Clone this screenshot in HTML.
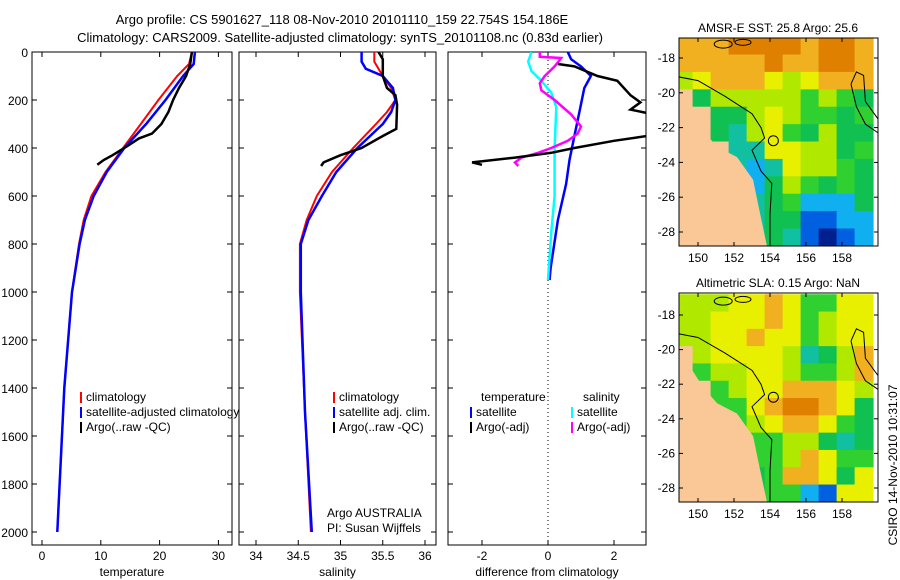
<!DOCTYPE html>
<html><head><meta charset="utf-8"><style>
html,body{margin:0;padding:0;background:#fff}
svg{display:block;font-family:"Liberation Sans",Arial,sans-serif}
</style></head><body>
<svg id="fig" width="900" height="580" viewBox="0 0 900 580">
<text x="342" y="24" font-size="13" text-anchor="middle">Argo profile: CS 5901627_118 08-Nov-2010 20101110_159 22.754S 154.186E</text>
<text x="340" y="42" font-size="13" text-anchor="middle">Climatology: CARS2009. Satellite-adjusted climatology: synTS_20101108.nc (0.83d earlier)</text>
<g id="maps"></g>
<g id="panels"></g>
<text transform="translate(897,465) rotate(-90)" font-size="12" text-anchor="middle">CSIRO 14-Nov-2010 10:31:07</text>
</svg>
<script>
// ---------- data ----------
const tempDepth = [0,50,100,200,300,400,500,600,700,800,1000,1400,2000];
const tempClim  = [25.5,25,23,19.8,16.8,13.8,10.8,8.4,7.1,6.3,5.1,3.8,2.6];
const tempSat   = [26,25.8,24,21,17.7,14,11,8.8,7.3,6.4,5.1,3.8,2.6];
const argoTDepth= [0,50,100,150,200,250,300,340,360,400,430,450,470];
const argoTemp  = [25.5,25.2,24.5,23.3,22.3,21.5,20.3,18.7,16.5,14,12,10.5,9.4];
const salDepth  = [0,40,70,100,150,200,250,300,400,500,600,700,800,1000,1500,2000];
const salClim   = [35.4,35.4,35.45,35.5,35.6,35.65,35.55,35.42,35.15,34.9,34.72,34.6,34.52,34.52,34.58,34.65];
const salSat    = [35.25,35.25,35.3,35.5,35.62,35.65,35.6,35.5,35.2,34.95,34.78,34.62,34.53,34.53,34.58,34.66];
const argoSDepth= [0,30,100,150,180,220,320,350,400,430,460,475];
const argoSal   = [35.45,35.5,35.5,35.55,35.65,35.67,35.66,35.5,35.25,35.0,34.8,34.77];
const dTSatDepth= [0,30,60,100,150,250,350,450,550,700,900,950];
const dTSat     = [0.6,0.7,1.0,1.3,1.1,0.95,0.8,0.65,0.55,0.3,0.08,0.05];
const dSSatDepth= [0,40,80,120,170,230,400,600,750,950];
const dSSat     = [-0.5,-0.6,-0.5,-0.2,0.1,0.25,0.2,0.2,0.1,0.0];
const dSArgoDepth=[0,20,25,60,100,130,160,200,260,310,340,370,400,420,440,460,475];
const dSArgo    = [-0.25,-0.25,0.4,0.2,-0.1,-0.25,-0.2,0.2,0.7,1.0,0.9,0.6,0.1,-0.3,-0.8,-1.0,-0.9];
const dTArgoDepth=[50,60,100,120,180,210,240,260,340,370,400,420,440,460,470];
const dTArgo    = [0.3,0.8,1.5,2.1,2.5,2.8,2.5,3.2,3.5,2.0,0.8,0.1,-1.0,-2.3,-2.0];
const depthTicks = [0,200,400,600,800,1000,1200,1400,1600,1800,2000];
const sstGrid = ["oooOOOOoOOo","oooooOooOOo","yYoooYyYooo","LgyyyyyGyGg","LLggyYyGGgG","LLgCyYGgygg","LLLCCYYyygG","LLLCcCYyyGg","LLLLcgyGgGg","LLLLCgGcccg","LLLLCggBBcc","LLLLCgCBDBc"];
const slaGrid = ["yyyYYoYGGYY","yyYYYoYGyYY","yyYYoYYGyYY","LyYYYYyCgyo","LGyyYYyGGyo","LLGyYYoooYy","LLGGYoOOoYg","LLLGyYooYGg","LLLGGGyygCg","LLLLGGyoYGG","LLLLgGooYgY","LLLLgGGcBYY"];

const NS="http://www.w3.org/2000/svg";
function mk(parent,tag,attrs){const e=document.createElementNS(NS,tag);for(const k in attrs)e.setAttribute(k,attrs[k]);parent.appendChild(e);return e;}
const P=document.getElementById('panels');
const Y0=52, PXM=0.24;
const yD=d=>Y0+d*PXM;
const PB=545;

function panel(x0,x1,xf,ticks,tickLbl,xlabel,name){
  const g=mk(P,'g',{});
  
  
  const r=mk(g,'rect',{x:x0,y:Y0,width:x1-x0,height:PB-Y0,fill:'#fff',stroke:'#000','stroke-width':1});
  
  
  depthTicks.forEach(d=>{mk(g,'line',{x1:x0,x2:x0+5,y1:yD(d),y2:yD(d),stroke:'#000'});mk(g,'line',{x1:x1,x2:x1-5,y1:yD(d),y2:yD(d),stroke:'#000'});});
  ticks.forEach((t,i)=>{const x=xf(t);mk(g,'line',{x1:x,x2:x,y1:PB,y2:PB-5,stroke:'#000'});mk(g,'line',{x1:x,x2:x,y1:Y0,y2:Y0+5,stroke:'#000'});
    const tx=mk(g,'text',{x:x,y:PB+15,'font-size':12,'text-anchor':'middle'});tx.textContent=tickLbl[i];
    
    });
  const xl=mk(g,'text',{x:(x0+x1)/2,y:576,'font-size':12,'text-anchor':'middle'});xl.textContent=xlabel;
  
  
  const cp=mk(g,'clipPath',{id:'cp'+name});mk(cp,'rect',{x:x0,y:Y0,width:x1-x0,height:PB-Y0});
  return g;
}
function line(g,xf,xs,ds,color,w,name,clip){
  const pts=xs.map((v,i)=>xf(v).toFixed(1)+','+yD(ds[i]).toFixed(1)).join(' ');
  const l=mk(g,'polyline',{points:pts,fill:'none',stroke:color,'stroke-width':w,'clip-path':'url(#'+clip+')'});
  
  
}
function legend(g,x,y,items){
  items.forEach((it,i)=>{
    if(it[1]) mk(g,'rect',{x:x,y:y+i*15-9,width:2,height:11,fill:it[1]});
    const t=mk(g,'text',{x:x+(it[1]?6:0),y:y+i*15,'font-size':12});t.textContent=it[0];
    
    
  });
}
depthTicks.forEach(d=>{const t=mk(P,'text',{x:28,y:yD(d)+5,'font-size':12,'text-anchor':'end'});t.textContent=d;
  
  });

const xT=v=>42+v*5.88;
const g1=panel(32,232,xT,[0,10,20,30],['0','10','20','30'],'temperature','temperature-panel');
line(g1,xT,tempClim,tempDepth,'#f00',2,'temp-climatology-line','cptemperature-panel');
line(g1,xT,tempSat,tempDepth,'#00f',2.5,'temp-satellite-line','cptemperature-panel');
line(g1,xT,argoTemp,argoTDepth,'#000',2.5,'temp-argo-line','cptemperature-panel');
legend(g1,80,401,[['climatology','#f00'],['satellite-adjusted climatology','#00f'],['Argo(..raw -QC)','#000']]);
const xS=v=>256+(v-34)*84.5;
const g2=panel(239,436,xS,[34,34.5,35,35.5,36],['34','34.5','35','35.5','36'],'salinity','salinity-panel');
line(g2,xS,salClim,salDepth,'#f00',2,'sal-climatology-line','cpsalinity-panel');
line(g2,xS,salSat,salDepth,'#00f',2.5,'sal-satellite-line','cpsalinity-panel');
line(g2,xS,argoSal,argoSDepth,'#000',2.5,'sal-argo-line','cpsalinity-panel');
legend(g2,333,401,[['climatology','#f00'],['satellite adj. clim.','#00f'],['Argo(..raw -QC)','#000']]);
legend(g2,327,517,[['Argo AUSTRALIA',null],['PI: Susan Wijffels',null]]);
const xDf=v=>548+v*33;
const g3=panel(448,646,xDf,[-2,0,2],['-2','0','2'],'difference from climatology','difference-panel');
mk(g3,'line',{x1:548,x2:548,y1:Y0,y2:PB,stroke:'#000','stroke-dasharray':'1,3'});
line(g3,xDf,dTSat,dTSatDepth,'#00f',2.5,'dtemp-satellite-line','cpdifference-panel');
line(g3,xDf,dSSat,dSSatDepth,'#0ff',2.5,'dsal-satellite-line','cpdifference-panel');
line(g3,xDf,dSArgo,dSArgoDepth,'#f0f',2.5,'dsal-argo-line','cpdifference-panel');
line(g3,xDf,dTArgo,dTArgoDepth,'#000',2.5,'dtemp-argo-line','cpdifference-panel');
legend(g3,481,401,[['temperature',null]]);
legend(g3,470,416,[['satellite','#00f'],['Argo(-adj)','#000']]);
legend(g3,583,401,[['salinity',null]]);
legend(g3,571,416,[['satellite','#0ff'],['Argo(-adj)','#f0f']]);

// ---------- maps ----------
const COL={o:'#f0b020',O:'#e08000',Y:'#e8f000',y:'#b0e800',G:'#30d030',g:'#10c050',C:'#10c0a0',c:'#10b0f0',B:'#0060e0',D:'#002090',L:'#f9c896'};
const M=document.getElementById('maps');
function map(top,bot,lat18,latStep,grid,title,name){
  const g=mk(M,'g',{});
  
  
  const x0=679,x1=878;
  const lonX=lon=>698+(lon-150)*18;
  const latY=lat=>lat18+(-18-lat)*latStep;
  const cp=mk(g,'clipPath',{id:'cp'+name});mk(cp,'rect',{x:x0,y:top,width:x1-x0,height:bot-top});
  const cg=mk(g,'g',{'clip-path':'url(#cp'+name+')'});
  grid.forEach((row,r)=>{[...row].forEach((ch,c)=>{
    const x=lonX(148.7+c), y=latY(-16.8-r);
    mk(cg,'rect',{x:x,y:y,width:19,height:latStep+1,fill:COL[ch]||'#fff'});
  });});
  const coast=[[148.5,-20.1],[149.0,-20.2],[149.56,-21.0],[150.3,-22.2],[151.06,-23.1],[152.17,-23.7],[153.06,-25.0],[153.44,-26.9],[153.83,-28.8],[153.9,-29.5]];
  const pts=coast.map(p=>lonX(p[0])+','+latY(p[1])).join(' ')+' '+(x0-5)+','+(bot+20);
  const land=mk(cg,'polygon',{points:pts,fill:COL.L});
  
  
  const iso=[[148.5,-19],[150,-19.3],[151.5,-20.2],[153,-21.2],[153.5,-22],[153.7,-22.6],[153,-23.3],[153.5,-24.5],[154.1,-25.2],[154,-27],[154,-29]];
  mk(cg,'polyline',{points:iso.map(p=>lonX(p[0])+','+latY(p[1])).join(' '),fill:'none',stroke:'#000','stroke-width':1});
  const reef=[[158.5,-19.5],[158.8,-18.8],[159.2,-19],[159.3,-20.5],[160,-21.5],[160,-22.3],[159.3,-21.8],[158.8,-20.8],[158.5,-19.5]];
  mk(cg,'polyline',{points:reef.map(p=>lonX(p[0])+','+latY(p[1])).join(' '),fill:'none',stroke:'#000','stroke-width':1});
  mk(cg,'circle',{cx:lonX(154.186),cy:latY(-22.754),r:5,fill:'none',stroke:'#000'});
  mk(cg,'ellipse',{cx:lonX(151.4),cy:latY(-17.2),rx:9,ry:4,fill:'none',stroke:'#000'});
  mk(cg,'ellipse',{cx:lonX(152.5),cy:latY(-17.1),rx:8,ry:3,fill:'none',stroke:'#000'});
  mk(g,'rect',{x:x0,y:top,width:x1-x0,height:bot-top,fill:'none',stroke:'#000'});
  [-18,-20,-22,-24,-26,-28].forEach(l=>{const y=latY(l);mk(g,'line',{x1:x0,x2:x0+4,y1:y,y2:y,stroke:'#000'});mk(g,'line',{x1:x1,x2:x1-4,y1:y,y2:y,stroke:'#000'});
    const t=mk(g,'text',{x:675,y:y+4,'font-size':12,'text-anchor':'end'});t.textContent=l;
    
    });
  [150,152,154,156,158].forEach(l=>{const x=lonX(l);mk(g,'line',{x1:x,x2:x,y1:bot,y2:bot-4,stroke:'#000'});mk(g,'line',{x1:x,x2:x,y1:top,y2:top+4,stroke:'#000'});
    const t=mk(g,'text',{x:x,y:bot+16,'font-size':12,'text-anchor':'middle'});t.textContent=l;
    
    });
  const tt=mk(g,'text',{x:778,y:top-6,'font-size':12,'text-anchor':'middle'});tt.textContent=title;
  
  
}
map(38,246,58,17.4,sstGrid,'AMSR-E SST: 25.8 Argo: 25.6','sst-map');
map(293,502,315,17.3,slaGrid,'Altimetric SLA: 0.15 Argo: NaN','sla-map');
</script>
</body></html>
